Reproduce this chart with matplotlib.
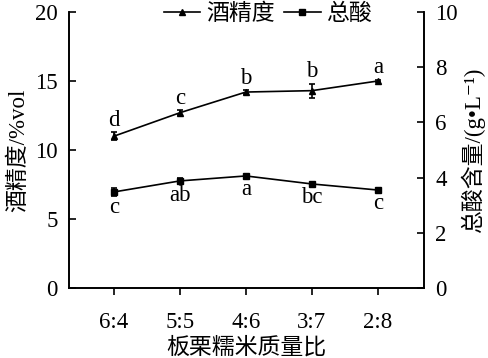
import matplotlib
matplotlib.use("Agg")
import matplotlib.pyplot as plt
from matplotlib.lines import Line2D

plt.rcParams["font.family"] = ["Liberation Serif", "Noto Sans CJK SC", "DejaVu Sans"]

ratios = ["6:4", "5:5", "4:6", "3:7", "2:8"]
alcohol = [11.0, 12.7, 14.2, 14.3, 15.0]
alcohol_err = [0.3, 0.2, 0.15, 0.5, 0.1]
alcohol_sig = ["d", "c", "b", "b", "a"]
acid = [3.48, 3.88, 4.06, 3.77, 3.55]
acid_err = [0.15, 0.1, 0.05, 0.05, 0.05]
acid_sig = ["c", "ab", "a", "bc", "c"]

FS = 16.5

fig = plt.figure(figsize=(4.88, 3.58), dpi=100)
ax = fig.add_axes([0.1414, 0.1955, 0.7276, 0.771])
ax2 = ax.twinx()

x = list(range(len(ratios)))
ax.errorbar(x, alcohol, yerr=alcohol_err, color="black", marker="^",
            markersize=4, lw=1.2, capsize=2.5, elinewidth=1.2, capthick=1.2)
ax2.errorbar(x, acid, yerr=acid_err, color="black", marker="s",
             markersize=4, lw=1.2, capsize=2.5, elinewidth=1.2, capthick=1.2)

for xi, v, e, s in zip(x, alcohol, alcohol_err, alcohol_sig):
    ax.annotate(s, (xi, v + e), xytext=(0, 1), textcoords="offset points",
                ha="center", va="bottom", fontsize=FS)
for xi, v, e, s in zip(x, acid, acid_err, acid_sig):
    ax2.annotate(s, (xi, v - e), xytext=(0, -1), textcoords="offset points",
                 ha="center", va="top", fontsize=FS)

ax.set_xlim(-0.68, 4.7)
ax.set_ylim(0, 20)
ax2.set_ylim(0, 10)
ax.set_yticks([0, 5, 10, 15, 20])
ax2.set_yticks([0, 2, 4, 6, 8, 10])
ax.set_xticks(x)
ax.set_xticklabels(ratios)

for a in (ax, ax2):
    a.spines["top"].set_visible(False)
    for sp in a.spines.values():
        sp.set_linewidth(1.2)
ax.tick_params(axis="y", direction="in", length=5, width=1.2, labelsize=FS, pad=8)
ax2.tick_params(axis="y", direction="in", length=5, width=1.2, labelsize=FS, pad=8)
ax.tick_params(axis="x", direction="out", length=5, width=1.2, labelsize=FS, pad=12)

ax.set_xlabel("板栗糯米质量比", fontsize=FS, labelpad=3)
ax.set_ylabel("酒精度/%vol", fontsize=FS, labelpad=4)
ax2.set_ylabel("总酸含量/(g•L⁻¹)", fontsize=FS, labelpad=2)

h1 = Line2D([], [], color="black", marker="^", markersize=4, lw=1.2)
h2 = Line2D([], [], color="black", marker="s", markersize=4, lw=1.2)
ax.legend([h1, h2], ["酒精度", "总酸"], loc="upper center",
          bbox_to_anchor=(0.56, 1.065), ncol=2, frameon=False, fontsize=FS,
          handlelength=1.6, handletextpad=0.25, columnspacing=0.4,
          borderaxespad=0)

fig.savefig("out.png", dpi=100)
